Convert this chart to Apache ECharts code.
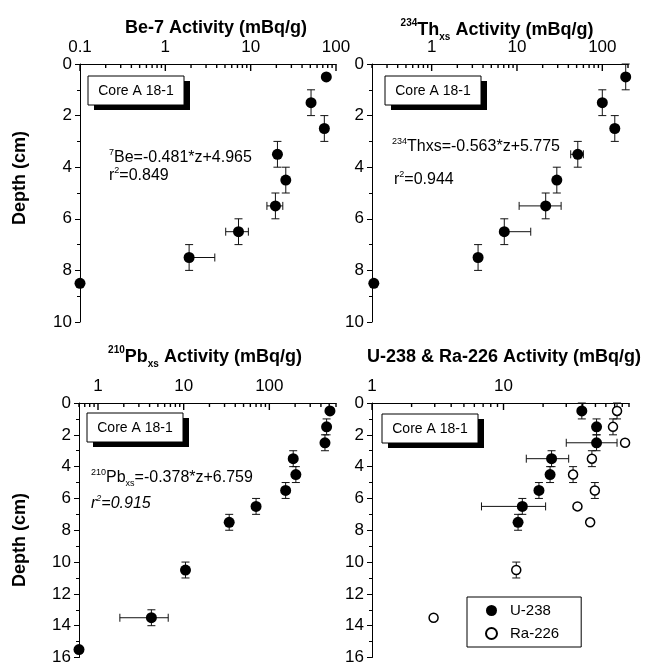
<!DOCTYPE html>
<html>
<head>
<meta charset="utf-8">
<script src="https://cdn.jsdelivr.net/npm/echarts@6/dist/echarts.min.js"></script>
<style>
  html, body { margin: 0; padding: 0; background: #fff; }
  #main { width: 649px; height: 666px; }
</style>
</head>
<body>
<div id="main"></div>
<script>
// Core A 18-1, activity profiles
var beDepth = [0.5, 1.5, 2.5, 3.5, 4.5, 5.5, 6.5, 7.5, 8.5];
var beAct = [77, 51, 73, 20.6, 25.8, 19.5, 7.2, 1.9, 0.1];
var beActErr = [null, null, null, null, null, [15.5, 23.8], [5.1, 9.4], [1.9, 3.8], null];
var beDepthErr = [0, 0.5, 0.5, 0.5, 0.5, 0.5, 0.5, 0.5, 0];

var thDepth = [0.5, 1.5, 2.5, 3.5, 4.5, 5.5, 6.5, 7.5, 8.5];
var thAct = [188, 100, 140, 51.6, 29.3, 21.7, 7.1, 3.5, 0.21];
var thActErr = [null, null, null, [42.6, 60], null, [10.6, 32.9], [7.1, 14.5], null, null];
var thDepthErr = [0.5, 0.5, 0.5, 0.5, 0.5, 0.5, 0.5, 0.5, 0];

var pbDepth = [0.5, 1.5, 2.5, 3.5, 4.5, 5.5, 6.5, 7.5, 10.5, 13.5, 15.5];
var pbAct = [510, 466, 446, 190, 204, 155, 70, 34, 10.5, 4.2, 0.6];
var pbActErr = [null, null, null, null, null, null, null, null, null, [1.8, 6.6], null];
var pbDepthErr = [0, 0.5, 0.5, 0.5, 0.5, 0.5, 0.5, 0.5, 0.5, 0.5, 0];

var uDepth = [0.5, 1.5, 2.5, 3.5, 4.5, 5.5, 6.5, 7.5];
var uAct = [39.4, 51, 51, 23.2, 22.6, 18.6, 13.9, 12.9];
var uActErr = [null, null, [30, 73], [14.9, 31.3], null, null, [6.8, 20.9], null];
var uDepthErr = [0.5, 0.5, 0.5, 0.5, 0.5, 0.5, 0.5, 0.5];

var raDepth = [0.5, 1.5, 2.5, 3.5, 4.5, 5.5, 6.5, 7.5, 10.5, 13.5];
var raAct = [73, 68, 84, 47, 33.8, 49.5, 36.5, 45.6, 12.5, 2.94];
var raDepthErr = [0.5, 0.5, 0, 0.5, 0.5, 0.5, 0, 0, 0.5, 0];

// axis ranges
var xRanges = [[0.1, 100], [0.2, 200], [0.6, 600], [1, 90]];
var yMax = [10, 10, 16, 16];

var FONT = '"Liberation Sans", Arial, sans-serif';

var chart = echarts.init(document.getElementById('main'));

// tick positions 1..9 x 10^k inside the range; major = the powers of ten
function logTicks(r, major) {
  var out = [];
  for (var d = Math.floor(Math.log10(r[0])); d <= Math.ceil(Math.log10(r[1])); d++) {
    for (var m = 1; m <= 9; m++) {
      if ((m === 1) !== major) continue;
      var v = +(m * Math.pow(10, d)).toPrecision(6);
      if (v >= r[0] * 0.999 && v <= r[1] * 1.001) out.push([v, 0]);
    }
  }
  return out;
}

function isPow10(v) {
  var l = Math.log10(v);
  return Math.abs(l - Math.round(l)) < 1e-6;
}

function errRows(act, depth, actErr, depthErr) {
  return act.map(function (v, i) {
    var xe = actErr ? actErr[i] : null;
    var de = depthErr[i];
    return [v, depth[i], xe ? xe[0] : v, xe ? xe[1] : v, depth[i] - de, depth[i] + de];
  });
}

function renderErr(params, api) {
  var x = api.value(0), y = api.value(1);
  var xl = api.value(2), xh = api.value(3), yl = api.value(4), yh = api.value(5);
  var st = { stroke: '#111', lineWidth: 1 };
  var kids = [];
  var cap = 4;
  if (yh > yl) {
    var a = api.coord([x, yl]), b = api.coord([x, yh]);
    kids.push({ type: 'line', shape: { x1: a[0], y1: a[1], x2: b[0], y2: b[1] }, style: st });
    kids.push({ type: 'line', shape: { x1: a[0] - cap, y1: a[1], x2: a[0] + cap, y2: a[1] }, style: st });
    kids.push({ type: 'line', shape: { x1: b[0] - cap, y1: b[1], x2: b[0] + cap, y2: b[1] }, style: st });
  }
  if (xh > xl) {
    var c = api.coord([xl, y]), d = api.coord([xh, y]);
    kids.push({ type: 'line', shape: { x1: c[0], y1: c[1], x2: d[0], y2: d[1] }, style: st });
    if (xl < x) kids.push({ type: 'line', shape: { x1: c[0], y1: c[1] - cap, x2: c[0], y2: c[1] + cap }, style: st });
    if (xh > x) kids.push({ type: 'line', shape: { x1: d[0], y1: d[1] - cap, x2: d[0], y2: d[1] + cap }, style: st });
  }
  return { type: 'group', children: kids };
}

var grids = [
  { left: 80, top: 64, width: 256, height: 258 },
  { left: 372, top: 64, width: 256, height: 258 },
  { left: 79, top: 403, width: 257, height: 257 },
  { left: 372, top: 403, width: 257, height: 257 }
];

var xAxes = xRanges.map(function (r, i) {
  return {
    type: 'log', logBase: 10, gridIndex: i, position: 'top',
    min: r[0], max: r[1],
    axisLine: { lineStyle: { color: '#000', width: 1 } },
    axisTick: { show: false },
    splitLine: { show: false },
    axisLabel: {
      color: '#000', fontSize: 17, fontFamily: FONT, margin: 8,
      showMinLabel: true, showMaxLabel: true, hideOverlap: false,
      formatter: function (v) {
        if (!isPow10(v)) return '';
        return v >= 1 ? String(Math.round(v)) : String(+v.toPrecision(1));
      }
    }
  };
});

var yAxes = yMax.map(function (m, i) {
  return {
    type: 'value', gridIndex: i, inverse: true, min: 0, max: m, interval: 2,
    axisLine: { show: true, lineStyle: { color: '#000', width: 1 } },
    axisTick: { show: true, inside: false, length: 5, lineStyle: { color: '#000' } },
    minorTick: { show: true, splitNumber: 2, length: 3, lineStyle: { color: '#000' } },
    splitLine: { show: false },
    axisLabel: { color: '#000', fontSize: 17, fontFamily: FONT, margin: 8 }
  };
});

var series = [];
// log ticks on the top axes, pointing into the plot
function addTicks(i) {
  [true, false].forEach(function (major) {
    var len = major ? 7 : 4;
    series.push({
      type: 'scatter', xAxisIndex: i, yAxisIndex: i, silent: true, z: 3, clip: false,
      symbol: 'rect', symbolSize: [1.4, len], symbolOffset: [0, len / 2],
      itemStyle: { color: '#000', opacity: 1 },
      data: logTicks(xRanges[i], major)
    });
  });
}
function addErr(i, rows) {
  series.push({ type: 'custom', xAxisIndex: i, yAxisIndex: i, renderItem: renderErr, data: rows, silent: true, z: 2 });
}
function addPts(i, act, depth, name, open) {
  series.push({
    type: 'scatter', name: name, xAxisIndex: i, yAxisIndex: i, z: 4,
    symbol: 'circle', symbolSize: open ? 9 : 11,
    itemStyle: open ? { color: '#fff', borderColor: '#000', borderWidth: 1.5, opacity: 1 } : { color: '#000', opacity: 1 },
    data: act.map(function (v, k) { return [v, depth[k]]; })
  });
}

for (var i = 0; i < 4; i++) addTicks(i);
addErr(0, errRows(beAct, beDepth, beActErr, beDepthErr));
addPts(0, beAct, beDepth, 'Be-7', false);
addErr(1, errRows(thAct, thDepth, thActErr, thDepthErr));
addPts(1, thAct, thDepth, 'Th-234', false);
addErr(2, errRows(pbAct, pbDepth, pbActErr, pbDepthErr));
addPts(2, pbAct, pbDepth, 'Pb-210', false);
addErr(3, errRows(uAct, uDepth, uActErr, uDepthErr));
addErr(3, errRows(raAct, raDepth, null, raDepthErr));
addPts(3, uAct, uDepth, 'U-238', false);
addPts(3, raAct, raDepth, 'Ra-226', true);

var rich = {
  n: { fontSize: 16, fontFamily: FONT, color: '#000', lineHeight: 20 },
  s: { fontSize: 9, fontFamily: FONT, color: '#000', verticalAlign: 'top', lineHeight: 20 },
  sb: { fontSize: 9, fontFamily: FONT, color: '#000', verticalAlign: 'bottom', lineHeight: 20 },
  i: { fontSize: 16, fontFamily: FONT, fontStyle: 'italic', color: '#000', lineHeight: 20 },
  si: { fontSize: 9, fontFamily: FONT, fontStyle: 'italic', color: '#000', verticalAlign: 'top', lineHeight: 20 },
  T: { fontSize: 18, fontWeight: 'bold', fontFamily: FONT, color: '#000', lineHeight: 24 },
  Ts: { fontSize: 10, fontWeight: 'bold', fontFamily: FONT, color: '#000', verticalAlign: 'top', lineHeight: 24 },
  Tb: { fontSize: 10, fontWeight: 'bold', fontFamily: FONT, color: '#000', verticalAlign: 'bottom', lineHeight: 24 }
};

function txt(x, y, text, align) {
  return { type: 'text', x: x, y: y, z: 10, style: { text: text, rich: rich, align: align || 'left', verticalAlign: 'middle' } };
}

function coreBox(x, y) {
  return {
    type: 'group', x: x, y: y, z: 10,
    children: [
      { type: 'rect', shape: { x: 6, y: 5, width: 96, height: 29 }, style: { fill: '#000' } },
      { type: 'rect', shape: { x: 0, y: 0, width: 96, height: 29 }, style: { fill: '#fff', stroke: '#000', lineWidth: 1 } },
      { type: 'text', x: 48, y: 15, style: { text: 'Core A 18-1', font: '14px ' + FONT, fill: '#000', align: 'center', verticalAlign: 'middle' } }
    ]
  };
}

var graphics = [
  txt(216, 28, '{T|Be-7 Activity (mBq/g)}', 'center'),
  txt(497, 30, '{Ts|234}{T|Th}{Tb|xs}{T| Activity (mBq/g)}', 'center'),
  txt(205, 357, '{Ts|210}{T|Pb}{Tb|xs}{T| Activity (mBq/g)}', 'center'),
  txt(504, 357, '{T|U-238 & Ra-226 Activity (mBq/g)}', 'center'),
  txt(109, 158, '{s|7}{n|Be=-0.481*z+4.965}'),
  txt(109, 176, '{n|r}{s|2}{n|=0.849}'),
  txt(392, 147, '{s|234}{n|Thxs=-0.563*z+5.775}'),
  txt(394, 180, '{n|r}{s|2}{n|=0.944}'),
  txt(91, 478, '{s|210}{n|Pb}{sb|xs}{n|=-0.378*z+6.759}'),
  txt(91, 504, '{i|r}{si|2}{i|=0.915}'),
  coreBox(88, 76),
  coreBox(385, 76),
  coreBox(87, 413),
  coreBox(382, 414),
  { type: 'text', x: 20, y: 178, rotation: Math.PI / 2, z: 10,
    style: { text: 'Depth (cm)', font: 'bold 18px ' + FONT, fill: '#000', align: 'center', verticalAlign: 'middle' } },
  { type: 'text', x: 20, y: 540, rotation: Math.PI / 2, z: 10,
    style: { text: 'Depth (cm)', font: 'bold 18px ' + FONT, fill: '#000', align: 'center', verticalAlign: 'middle' } }
];

chart.setOption({
  backgroundColor: '#fff',
  animation: false,
  grid: grids,
  xAxis: xAxes,
  yAxis: yAxes,
  legend: {
    data: ['U-238', 'Ra-226'],
    orient: 'vertical',
    left: 467, top: 597,
    padding: [6, 22, 6, 18],
    itemGap: 8,
    itemWidth: 11, itemHeight: 11,
    borderColor: '#000', borderWidth: 1, borderRadius: 0,
    backgroundColor: '#fff',
    selectedMode: false,
    textStyle: { color: '#000', fontSize: 15, fontFamily: FONT, padding: [0, 0, 0, 8] }
  },
  graphic: graphics,
  series: series
});
</script>
</body>
</html>
